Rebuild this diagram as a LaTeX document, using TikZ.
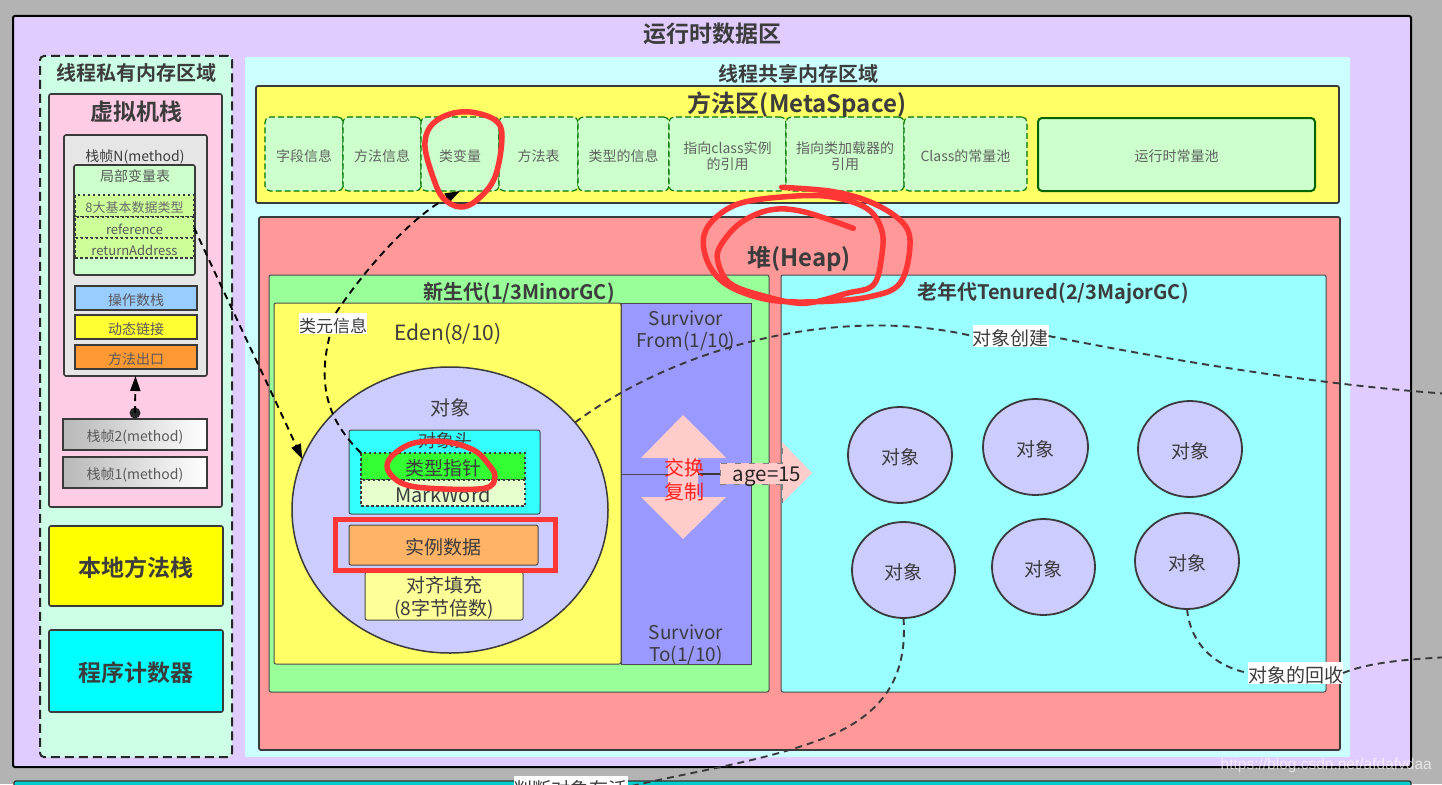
\documentclass[tikz,border=0pt]{standalone}
\usepackage{fontspec}
\setmainfont{Noto Sans CJK SC}[BoldFont={Noto Sans CJK SC Bold}]
\newfontfamily\wmfont{Liberation Sans}
\usetikzlibrary{arrows.meta,shapes.geometric}
\definecolor{dk}{HTML}{3A3A3A}
\definecolor{tx}{HTML}{3C3C3C}
\definecolor{redpen}{HTML}{FF3636}
\definecolor{pinkar}{HTML}{FFCCCC}
\definecolor{pur}{HTML}{CCCCFF}
\definecolor{cPurple}{HTML}{E1CCFF}
\definecolor{cMint}{HTML}{CCFFE6}
\definecolor{cPink}{HTML}{FFCCE6}
\definecolor{cLeaf}{HTML}{CCFFCC}
\definecolor{cLime}{HTML}{CCFF99}
\definecolor{cBlue}{HTML}{99CCFF}
\definecolor{cYel}{HTML}{FFFF33}
\definecolor{cOra}{HTML}{FF9933}
\definecolor{cAqua}{HTML}{CCFFFF}
\definecolor{cLY}{HTML}{FFFF66}
\definecolor{cHeap}{HTML}{FF9999}
\definecolor{cGreen}{HTML}{99FF99}
\definecolor{cOld}{HTML}{99FFFF}
\definecolor{cHead}{HTML}{33FFFF}
\definecolor{cPtr}{HTML}{33FF33}
\definecolor{cMark}{HTML}{E6FFCC}
\definecolor{cInst}{HTML}{FFB366}
\definecolor{cPad}{HTML}{FFFF99}
\definecolor{cSurv}{HTML}{9999FF}
\definecolor{pureY}{HTML}{FFFF00}
\definecolor{pureC}{HTML}{00FFFF}
\definecolor{teal2}{HTML}{00CCCC}
\definecolor{bgGray}{HTML}{B3B3B3}
\definecolor{gridGray}{HTML}{E6E6E6}
\definecolor{pureR}{HTML}{FF2020}
\newcommand{\fs}[1]{\fontsize{#1pt}{1.18\dimexpr#1pt\relax}\selectfont}
\newcommand{\ml}[2]{\vbox{\halign{\hfil##\hfil\cr#1\cr#2\cr}}}
\newcommand{\bx}[7]{\node[#6, minimum width={(#4)-(#2)}, minimum height={(#5)-(#3)}] (#1) at ({((#2)+(#4))/2},{((#3)+(#5))/2}) {\raisebox{-2pt}[\height][\depth]{#7}};}
\tikzset{
  x=1pt,y=-1pt,
  base/.style={draw=dk,line width=1.3pt,rounded corners=2pt,inner sep=0pt,outer sep=0pt,text=tx,align=center,font=\fs{14}},
  lbl/.style={inner sep=0pt,outer sep=0pt,text=tx,align=center,yshift=-2pt},
  ttl/.style={lbl,font=\fs{#1}\bfseries},
  tag/.style={inner sep=0pt,outer sep=0pt,text=tx,fill=white,font=\fs{#1}},
  cell/.style={base,fill=cLeaf,draw=green!45!black,dash pattern=on 6pt off 3pt,line width=1.1pt,text=black!62,rounded corners=5pt},
  rowbox/.style={base,fill=#1,dash pattern=on 2.5pt off 2.5pt,line width=1.5pt,rounded corners=0pt},
  stackbox/.style={base,fill=#1,line width=2pt,rounded corners=0pt,text=black!65},
  gradbox/.style={base,line width=2pt,rounded corners=0pt,left color=black!28,right color=white,text=black!65},
  obj/.style={draw=dk,line width=1.8pt,fill=pur,ellipse,inner sep=0pt,outer sep=0pt,text=tx,font=\fs{19}},
  conn/.style={draw=dk,line width=1.9pt,dash pattern=on 7pt off 5pt},
  head/.style={-{Triangle[length=15pt,width=10pt,fill=black]}},
  pen/.style={draw=redpen,line width=5.5pt,line cap=round,line join=round},
  thinbox/.style={base,draw=black!70,line width=1pt},
}
\begin{document}
\begin{tikzpicture}
\useasboundingbox (0,0) rectangle (1442,784);
\clip (0,0) rectangle (1442,784);
\fill[bgGray] (0,0) rectangle (1442,784);
% outer
\bx{bottom}{14}{781}{1411}{800}{base,fill=teal2,draw=black!80}{}
\bx{outer}{13}{16}{1411}{767}{base,fill=cPurple,draw=black,line width=2pt}{}
\node[ttl=23] (outerT) at (712,32) {运行时数据区};
% private
\bx{priv}{40}{56}{232}{757}{base,fill=cMint,draw=black!85,line width=2pt,dash pattern=on 9pt off 5pt,rounded corners=4pt}{}
\node[ttl=20] (privT) at (136,71) {线程私有内存区域};
\bx{vm}{49}{94}{222}{507}{base,fill=cPink,line width=1.6pt}{}
\node[ttl=23] (vmT) at (136,110) {虚拟机栈};
\bx{frameN}{64}{135}{207}{376}{base,fill=gridGray,line width=1.6pt}{}
\node[lbl,font=\fs{14}] (frameNT) at (135,155) {栈帧N(method)};
\bx{locals}{74}{165}{195}{275}{base,fill=cLeaf,line width=1.6pt}{}
\node[lbl,font=\fs{14},text=black!65] (localsT) at (135,174) {局部变量表};
\bx{rowA}{75}{195}{194}{217}{rowbox=cLime,text=black!58,font=\fs{13}}{8大基本数据类型}
\bx{rowB}{75}{217}{194}{238}{rowbox=cLime,text=black!65,font=\fs{13}}{reference}
\bx{rowC}{75}{238}{194}{258}{rowbox=cLime,text=black!65,font=\fs{13}}{returnAddress}
\bx{opstack}{75}{286}{197}{310}{stackbox=cBlue}{操作数栈}
\bx{dynlink}{75}{315}{197}{339}{stackbox=cYel}{动态链接}
\bx{retaddr}{75}{345}{197}{369}{stackbox=cOra}{方法出口}
\bx{frame2}{63}{419}{207}{450}{gradbox}{栈帧2(method)}
\bx{frame1}{63}{457}{207}{488}{gradbox}{栈帧1(method)}
\bx{native}{49}{526}{223}{606}{base,fill=pureY,font=\fs{23}\bfseries,line width=1.6pt}{本地方法栈}
\bx{pc}{49}{630}{223}{712}{base,fill=pureC,font=\fs{23}\bfseries,line width=1.6pt}{程序计数器}
% shared
\bx{shared}{245}{57}{1350}{757}{base,fill=cAqua,draw=none}{}
\node[ttl=20] (sharedT) at (798,72) {线程共享内存区域};
\bx{meta}{256}{86}{1339}{203}{base,fill=cLY,line width=1.8pt}{}
\node[ttl=24] (metaT) at (797,103) {方法区(MetaSpace)};
\bx{c1}{265}{117}{343}{191}{cell}{字段信息}
\bx{c2}{343}{117}{421}{191}{cell}{方法信息}
\bx{c3}{421}{117}{499}{191}{cell}{类变量}
\bx{c4}{499}{117}{578}{191}{cell}{方法表}
\bx{c5}{578}{117}{669}{191}{cell}{类型的信息}
\bx{c6}{669}{117}{786}{191}{cell}{\ml{指向class实例}{的引用}}
\bx{c7}{786}{117}{904}{191}{cell}{\ml{指向类加载器的}{引用}}
\bx{c8}{904}{117}{1027}{191}{cell}{Class的常量池}
\bx{c9}{1038}{118}{1315}{191}{base,fill=cLeaf,draw=green!40!black,line width=2pt,rounded corners=4pt,text=black!62}{运行时常量池}
% heap
\bx{heap}{259}{217}{1340}{750}{base,fill=cHeap,line width=1.8pt}{}
\node[ttl=24] (heapT) at (799,257) {堆(Heap)};
\bx{young}{269}{275}{769}{692}{thinbox,fill=cGreen}{}
\node[ttl=20] (youngT) at (519,291) {新生代(1/3MinorGC)};
\bx{eden}{274}{303}{621}{664}{thinbox,fill=cLY}{}
\node[lbl,font=\fs{21}] (edenT) at (448,332) {Eden(8/10)};
\bx{sfrom}{621}{303}{751}{474}{thinbox,fill=cSurv,rounded corners=0pt}{}
\node[lbl,font=\fs{19}] (sfromT) at (686,329) {Survivor\\From(1/10)};
\bx{sto}{621}{474}{751}{664}{thinbox,fill=cSurv,rounded corners=0pt}{}
\node[lbl,font=\fs{19}] (stoT) at (686,643) {Survivor\\To(1/10)};
\bx{old}{781}{275}{1326}{692}{thinbox,fill=cOld}{}
\node[ttl=20] (oldT) at (1053,291) {老年代Tenured(2/3MajorGC)};
% object
\bx{bigobj}{292}{367}{608}{653}{obj,line width=1.5pt}{}
\node[lbl,font=\fs{20}] (bigobjT) at (450,406) {对象};
\bx{header}{349}{430}{540}{514}{thinbox,fill=cHead}{}
\node[lbl,font=\fs{18}] (headerT) at (445,439) {对象头};
\bx{typeptr}{361}{453}{525}{480}{rowbox=cPtr,font=\fs{19}}{类型指针}
\bx{markw}{361}{480}{525}{506}{rowbox=cMark,font=\fs{20}}{MarkWord}
\bx{inst}{349}{525}{538}{565}{thinbox,fill=cInst,font=\fs{19}}{实例数据}
\bx{pad}{365}{572}{523}{620}{thinbox,fill=cPad,font=\fs{19}}{\ml{对齐填充}{(8字节倍数)}}
% exchange arrows
\fill[pinkar] (641,458) -- (683,415) -- (726,458) -- (698,458) -- (698,497) -- (726,497) -- (683,539) -- (641,497) -- (668,497) -- (668,458) -- cycle;
\draw[dk,line width=1.2pt] (698,474) -- (721,474);
\node[lbl,font=\fs{20},text=pureR] (swapT) at (684,478) {交换\\复制};
% age arrow
\fill[pinkar] (720,463) -- (782,463) -- (782,442) -- (812,473) -- (782,503) -- (782,484) -- (720,484) -- cycle;
\draw[black!50,line width=.8pt,dash pattern=on 6pt off 8pt] (782,484) -- (720,484) -- (720,463) -- (782,463) -- (782,442);
\draw[black!50,line width=.8pt,dash pattern=on 6pt off 8pt] (782,484) -- (782,503);
\node[lbl,font=\fs{20.5},text=black!85] (ageT) at (767,475) {age=15};
% small objects
\bx{o1}{848}{407}{952}{503}{obj}{对象}
\bx{o2}{983}{399}{1088}{495}{obj}{对象}
\bx{o3}{1138}{401}{1242}{497}{obj}{对象}
\bx{o4}{852}{522}{955}{618}{obj}{对象}
\bx{o5}{992}{519}{1095}{615}{obj}{对象}
\bx{o6}{1135}{513}{1239}{609}{obj}{对象}
% labels of connectors
\bx{tagA}{299}{313}{367}{334}{tag=17}{类元信息}
\bx{tagB}{973}{325}{1048}{347}{tag=19}{对象创建}
\bx{tagC}{1248}{662}{1343}{684}{tag=19}{对象的回收}
\bx{tagD}{514}{776}{627}{798}{tag=19}{判断对象存活}
\coordinate (exitB) at (1450,394);
\coordinate (exitC) at (1450,657);
\coordinate (dot) at (135,413);
% connectors
\fill[black!85] (dot) circle (5.5);
\draw[conn,head,black] (dot) -- (frameN.south);
\draw[conn,head,black] (rowB.east) .. controls (225,295) and (265,378) .. (bigobj.161);
\draw[conn,black] (typeptr.north west) .. controls (336,428) and (314,395) .. (tagA.255);
\draw[conn,head,black] (tagA.75) .. controls (370,262) and (415,215) .. (c3.south);
\draw[conn] (bigobj.35) .. controls (680,345) and (840,305) .. (tagB.west);
\draw[conn] (tagB.east) .. controls (1180,362) and (1320,385) .. (exitB);
\draw[conn] (o4.south) .. controls (908,680) and (880,715) .. (827,737) .. controls (770,760) and (700,770) .. (tagD.east);
\draw[conn] (o6.south) .. controls (1190,640) and (1210,665) .. (tagC.west);
\draw[conn] (tagC.east) .. controls (1370,662) and (1410,659) .. (exitC);
% pen marks
\draw[pen] plot[smooth cycle,tension=.6] coordinates {(470,112) (495,120) (502,137) (495,177) (477,200) (460,207) (443,198) (433,177) (425,147) (430,127) (447,115)};
\begin{scope}[shift={(420,80)},x=.3333pt,y=-.3333pt]
\draw[pen] plot[smooth,tension=.6] coordinates {(1300,445) (1150,395) (1050,390) (960,430) (900,500) (895,550) (930,610) (1020,645) (1150,670) (1280,640) (1360,615) (1385,530) (1385,450) (1340,385) (1230,350) (1100,350) (960,370) (880,420) (850,480) (870,560) (930,620) (1050,660) (1200,665) (1350,650) (1440,610) (1470,500) (1450,430) (1360,370) (1240,335) (1085,322)};
\end{scope}
\begin{scope}[shift={(270,360)},x=.357pt,y=-.3333pt]
\draw[pen] plot[smooth cycle,tension=.6] coordinates {(570,270) (490,245) (400,250) (340,290) (330,330) (370,370) (450,385) (600,385) (630,350) (610,310)};
\end{scope}
\bx{redbox}{335}{519}{555}{570}{draw=redpen,line width=5pt,inner sep=0pt,outer sep=0pt}{}
\node[inner sep=0pt,text=white,text opacity=.65,anchor=east,font=\wmfont\fs{15.5}] (wm) at (1432,765) {https://blog.csdn.net/afdafvdaa};
\end{tikzpicture}
\end{document}
